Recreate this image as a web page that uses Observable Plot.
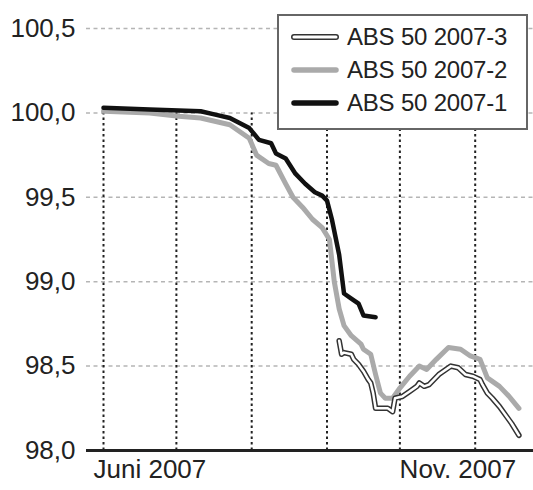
<!DOCTYPE html>
<html>
<head>
<meta charset="utf-8">
<script src="https://cdn.jsdelivr.net/npm/d3@7"></script>
<script src="https://cdn.jsdelivr.net/npm/@observablehq/plot@0.6"></script>
<style>
  html, body { margin: 0; padding: 0; background: #fff; }
  #wrap { position: relative; width: 533px; height: 490px; font-family: "Liberation Sans", Arial, sans-serif; }
  #legend { position: absolute; left: 277px; top: 14px; width: 247px; height: 112px; border: 2px solid #666; background: #fff; }
  .row { position: absolute; left: 0; height: 30px; width: 100%; }
  .row svg { position: absolute; left: 10px; top: 9px; }
  .row span { position: absolute; left: 68px; top: 0; font-size: 24px; line-height: 30px; color: #222; white-space: nowrap; letter-spacing: -0.2px; }
</style>
</head>
<body>
<div id="wrap"><div id="legend"></div></div>
<script>
// Series names (legend order)
const seriesNames = ["ABS 50 2007-3", "ABS 50 2007-2", "ABS 50 2007-1"];

// ABS 50 2007-1 (black)
const dates1 = ["2007-06-01","2007-06-20","2007-07-11","2007-07-17","2007-07-23","2007-07-31","2007-08-04","2007-08-09","2007-08-11","2007-08-15","2007-08-19","2007-08-23","2007-08-27","2007-08-30","2007-09-01","2007-09-03","2007-09-06","2007-09-08","2007-09-11","2007-09-14","2007-09-16","2007-09-21"];
const values1 = [100.03,100.02,100.01,99.99,99.97,99.91,99.84,99.82,99.76,99.73,99.64,99.58,99.53,99.51,99.48,99.37,99.16,98.93,98.90,98.87,98.80,98.79];

// ABS 50 2007-2 (gray)
const dates2 = ["2007-06-01","2007-06-20","2007-07-02","2007-07-11","2007-07-23","2007-07-31","2007-08-03","2007-08-08","2007-08-11","2007-08-15","2007-08-18","2007-08-22","2007-08-26","2007-08-30","2007-09-02","2007-09-04","2007-09-06","2007-09-08","2007-09-11","2007-09-15","2007-09-16","2007-09-19","2007-09-21","2007-09-23","2007-09-25","2007-09-28","2007-10-01","2007-10-05","2007-10-09","2007-10-12","2007-10-16","2007-10-21","2007-10-26","2007-10-30","2007-11-03","2007-11-06","2007-11-11","2007-11-15","2007-11-19"];
const values2 = [100.01,100.0,99.98,99.97,99.93,99.85,99.75,99.70,99.69,99.58,99.50,99.44,99.37,99.32,99.25,99.00,98.84,98.74,98.68,98.63,98.60,98.57,98.45,98.34,98.31,98.31,98.37,98.44,98.50,98.48,98.54,98.61,98.60,98.56,98.54,98.43,98.38,98.32,98.25];

// ABS 50 2007-3 (white, outlined)
const dates3 = ["2007-09-06","2007-09-07","2007-09-08","2007-09-11","2007-09-12","2007-09-14","2007-09-16","2007-09-18","2007-09-19","2007-09-20","2007-09-21","2007-09-23","2007-09-26","2007-09-28","2007-09-29","2007-10-02","2007-10-05","2007-10-08","2007-10-09","2007-10-11","2007-10-13","2007-10-17","2007-10-22","2007-10-25","2007-10-28","2007-10-31","2007-11-03","2007-11-04","2007-11-06","2007-11-08","2007-11-11","2007-11-14","2007-11-16","2007-11-19"];
const values3 = [98.65,98.57,98.58,98.57,98.54,98.51,98.47,98.42,98.40,98.34,98.25,98.25,98.25,98.23,98.31,98.32,98.35,98.38,98.40,98.38,98.39,98.45,98.50,98.49,98.45,98.44,98.42,98.39,98.34,98.31,98.26,98.20,98.16,98.09];

// Axes
const yTicks = [98.0, 98.5, 99.0, 99.5, 100.0, 100.5];
const gridValues = [98.5, 99.0, 99.5, 100.0, 100.5];
const monthStarts = ["2007-06-01","2007-07-01","2007-08-01","2007-09-01","2007-10-01","2007-11-01"];
const xLabelStart = [{date: "2007-06-01", label: "Juni 2007"}];
const xLabelEnd = [{date: "2007-11-01", label: "Nov. 2007"}];
const xDomain = ["2007-05-25", "2007-11-25"];

const rows = (ds, vs) => ds.map((d, i) => ({date: new Date(d), value: vs[i]}));
const s1 = rows(dates1, values1);
const s2 = rows(dates2, values2);
const s3 = rows(dates3, values3);
const fmt = d => d.toFixed(1).replace(".", ",");

const chart = Plot.plot({
  width: 533,
  height: 490,
  marginLeft: 86,
  marginRight: 0,
  marginTop: 28,
  marginBottom: 40,
  style: {fontFamily: "'Liberation Sans', Arial, sans-serif", color: "#222", background: "#fff", overflow: "visible"},
  x: {type: "utc", domain: xDomain.map(d => new Date(d)), axis: null, label: null},
  y: {domain: [98, 100.5], axis: null, label: null},
  marks: [
    Plot.ruleY(gridValues, {stroke: "#b5b5b5", strokeWidth: 1.5, strokeDasharray: "4,3.5"}),
    Plot.ruleX(monthStarts.map(d => new Date(d)), {y1: 98, y2: 100, stroke: "#222", strokeWidth: 2, strokeDasharray: "2.5,3"}),
    Plot.ruleY([98], {stroke: "#222", strokeWidth: 3}),
    Plot.axisY({ticks: yTicks, tickSize: 0, tickPadding: 11, tickFormat: fmt, fontSize: 26, fill: "#222", label: null}),
    Plot.text(xLabelStart, {x: d => new Date(d.date), text: "label", frameAnchor: "bottom", dy: 27, dx: -10, textAnchor: "start", fontSize: 26, fill: "#222"}),
    Plot.text(xLabelEnd, {x: d => new Date(d.date), text: "label", frameAnchor: "bottom", dy: 27, dx: 41, textAnchor: "end", fontSize: 26, fill: "#222"}),
    Plot.line(s2, {x: "date", y: "value", stroke: "#aaa", strokeWidth: 5, strokeLinejoin: "round", strokeLinecap: "round"}),
    Plot.line(s1, {x: "date", y: "value", stroke: "#111", strokeWidth: 4.5, strokeLinejoin: "round", strokeLinecap: "round"}),
    Plot.line(s3, {x: "date", y: "value", stroke: "#333", strokeWidth: 5.5, strokeLinejoin: "round", strokeLinecap: "round"}),
    Plot.line(s3, {x: "date", y: "value", stroke: "#fff", strokeWidth: 2.5, strokeLinejoin: "round", strokeLinecap: "round"})
  ]
});
document.getElementById("wrap").prepend(chart);

// Legend overlay
const legend = document.getElementById("legend");
const swatch = [
  `<line x1="5" y1="6" x2="47" y2="6" stroke="#333" stroke-width="6" stroke-linecap="round"/><line x1="5" y1="6" x2="47" y2="6" stroke="#fff" stroke-width="3" stroke-linecap="round"/>`,
  `<line x1="5" y1="6" x2="47" y2="6" stroke="#aaa" stroke-width="5.5" stroke-linecap="round"/>`,
  `<line x1="5" y1="6" x2="47" y2="6" stroke="#111" stroke-width="5.5" stroke-linecap="round"/>`
];
seriesNames.forEach((name, i) => {
  const r = document.createElement("div");
  r.className = "row";
  r.style.top = (6 + i * 33) + "px";
  r.innerHTML = `<svg width="52" height="12">${swatch[i]}</svg><span>${name}</span>`;
  legend.appendChild(r);
});
</script>
</body>
</html>
